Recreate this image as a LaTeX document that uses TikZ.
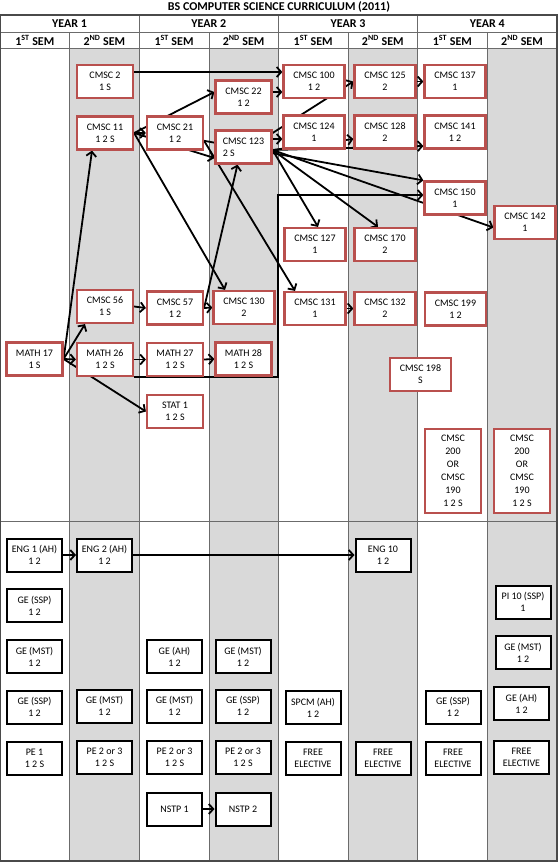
\documentclass[tikz,border=0pt]{standalone}
\usepackage{fontspec}
\setmainfont{Carlito}
\usetikzlibrary{arrows.meta,backgrounds}
\definecolor{shadec}{HTML}{D9D9D9}
\definecolor{gridc}{HTML}{6B6B6B}
\definecolor{framec}{HTML}{4A4A4A}
\definecolor{boxred}{HTML}{B9504E}

\tikzset{
  course/.style={draw=boxred, line width=2.2pt, fill=white, minimum width=56pt,
    minimum height=33pt, inner sep=1pt, align=center,
    font=\fontsize{10}{12}\selectfont},
  wide/.style={minimum width=61pt},
  tall/.style={minimum height=84pt, font=\fontsize{10}{13}\selectfont},
  gened/.style={course, draw=black, line width=2pt, minimum width=55pt},
  prq/.style={-{Straight Barb[length=4.5pt,width=10pt]}, line width=1.8pt},
  hdr/.style={font=\fontsize{12}{14}\bfseries\selectfont},
}

\begin{document}
\begin{tikzpicture}[x=1pt, y=-1pt]
  \useasboundingbox (0,0) rectangle (558,863);

  % major courses
  \node[course] (c2) at (105,81.5) {CMSC 2\\1 S};
  \node[course] (c11) at (105,133) {CMSC 11\\1 2 S};
  \node[course] (c21) at (175,133) {CMSC 21\\1 2};
  \node[course] (c22) at (243.5,97) {CMSC 22\\1 2};
  \node[course, align=left] (c123) at (243.5,147) {CMSC 123\\2 S};
  \node[course, wide] (c100) at (314,81.5) {CMSC 100\\1 2};
  \node[course, wide] (c125) at (385,81.5) {CMSC 125\\2};
  \node[course, wide] (c137) at (455,81.5) {CMSC 137\\1};
  \node[course, wide] (c124) at (314,132) {CMSC 124\\1};
  \node[course, wide] (c128) at (385,132) {CMSC 128\\2};
  \node[course, wide] (c141) at (455,132) {CMSC 141\\1 2};
  \node[course, wide] (c150) at (455,198) {CMSC 150\\1};
  \node[course, wide] (c142) at (525,222.5) {CMSC 142\\1};
  \node[course, wide] (c127) at (315,244.5) {CMSC 127\\1};
  \node[course, wide] (c170) at (385,244.5) {CMSC 170\\2};
  \node[course, wide] (c131) at (315,308.5) {CMSC 131\\1};
  \node[course, wide] (c132) at (385,308.5) {CMSC 132\\2};
  \node[course, wide] (c130) at (244,307.5) {CMSC 130\\2};
  \node[course, wide] (c199) at (455.5,309) {CMSC 199\\1 2};
  \node[course, wide] (c198) at (420.5,374.5) {CMSC 198\\S};
  \node[course] (c56) at (105,306.5) {CMSC 56\\1 S};
  \node[course] (c57) at (175,308) {CMSC 57\\1 2};
  \node[course] (m17) at (34.5,359) {MATH 17\\1 S};
  \node[course] (m26) at (105,359.5) {MATH 26\\1 2 S};
  \node[course] (m27) at (175,359.5) {MATH 27\\1 2 S};
  \node[course] (m28) at (243.5,359) {MATH 28\\1 2 S};
  \node[course] (s1) at (175,411.5) {STAT 1\\1 2 S};
  \node[course, tall] (sp1) at (453,471) {CMSC\\200\\OR\\CMSC\\190\\1 2 S};
  \node[course, tall] (sp2) at (522,471) {CMSC\\200\\OR\\CMSC\\190\\1 2 S};

  % general education
  \node[gened] (e1) at (34.5,555) {ENG 1 (AH)\\1 2};
  \node[gened] (e2) at (104.5,555) {ENG 2 (AH)\\1 2};
  \node[gened] (e10) at (383,555) {ENG 10\\1 2};
  \node[gened] (gs1) at (34.5,605.5) {GE (SSP)\\1 2};
  \node[gened] (gm1) at (34.5,656.5) {GE (MST)\\1 2};
  \node[gened] (ga3) at (174.5,656.5) {GE (AH)\\1 2};
  \node[gened] (gm4) at (243,656.5) {GE (MST)\\1 2};
  \node[gened] (pi10) at (523,602) {PI 10 (SSP)\\1};
  \node[gened] (gm8) at (523,652.5) {GE (MST)\\1 2};
  \node[gened] (gs1b) at (34.5,707) {GE (SSP)\\1 2};
  \node[gened] (gm2) at (104.5,706) {GE (MST)\\1 2};
  \node[gened] (gm3) at (174.5,706) {GE (MST)\\1 2};
  \node[gened] (gs4) at (243,706) {GE (SSP)\\1 2};
  \node[gened] (spcm) at (313,707.5) {SPCM (AH)\\1 2};
  \node[gened] (gs7) at (453,707) {GE (SSP)\\1 2};
  \node[gened] (ga8) at (521.5,703.5) {GE (AH)\\1 2};
  \node[gened] (pe1) at (34.5,758) {PE 1\\1 2 S};
  \node[gened] (pe2) at (104.5,757) {PE 2 or 3\\1 2 S};
  \node[gened] (pe3) at (174.5,757) {PE 2 or 3\\1 2 S};
  \node[gened] (pe4) at (243,757) {PE 2 or 3\\1 2 S};
  \node[gened] (fe5) at (313,758) {FREE\\ELECTIVE};
  \node[gened] (fe6) at (383,758) {FREE\\ELECTIVE};
  \node[gened] (fe7) at (453,758) {FREE\\ELECTIVE};
  \node[gened] (fe8) at (521.5,757) {FREE\\ELECTIVE};
  \node[gened] (ns1) at (174.5,809) {NSTP 1};
  \node[gened] (ns2) at (243,809) {NSTP 2};

  \coordinate (hub) at ([yshift=-3pt]c123.east);
  \coordinate (mbend) at (278,0);

  \begin{scope}[on background layer]
    % table
    \foreach \c in {1,3,5,7}
      \fill[shadec] ({\c*69.6},48) rectangle ({(\c+1)*69.6},861);
    \foreach \c in {1,...,7}
      \draw[gridc] ({\c*69.6},32) -- ({\c*69.6},861);
    \foreach \c in {2,4,6}
      \draw[gridc] ({\c*69.6},15) -- ({\c*69.6},32);
    \draw[gridc] (0,32) -- (557,32);
    \draw[gridc] (0,48) -- (557,48);
    \draw[gridc] (0,521) -- (557,521);
    \draw[framec, line width=1.2pt] (0.6,15) rectangle (557,861);

    \node[hdr] (title) at (279,7) {BS COMPUTER SCIENCE CURRICULUM (2011)};
    \foreach \y in {1,...,4} {
      \node[hdr] (year\y) at ({(2*\y-1)*69.6},23.5) {YEAR \y};
      \node[hdr] (sem\y-1) at ({(2*\y-1.5)*69.6},40.5) {1\textsuperscript{ST} SEM};
      \node[hdr] (sem\y-2) at ({(2*\y-0.5)*69.6},40.5) {2\textsuperscript{ND} SEM};
    }

    % prerequisites
    \draw[prq] ([yshift=9.5pt]c2.east) -- ([yshift=9.5pt]c2.east -| c100.west);
    \draw[prq] (c11.east) -- (c21.west);
    \draw[prq] (c11.east) -- ([yshift=5pt]c22.west);
    \draw[prq] (c11.east) -- ([yshift=-11pt]c123.west);
    \draw[prq] (c11.east) -- ([xshift=-19pt]c130.north);
    \draw[prq] ([yshift=5pt]c22.east) -- ([yshift=5pt]c22.east -| c100.west);
    \draw[prq] (c21.-15) -- ([xshift=-20pt]c131.north);
    \draw[prq] (c21.-15) -- (c150.north west);
    \draw[prq] (c57.east) -- ([xshift=-6pt]c123.south);
    \draw[prq] (c57.east) -- (c130.west);
    \draw[prq] (c56.east) -- (c57.west);
    \draw[prq] (m17.east) -- ([xshift=-13pt]c11.south);
    \draw[prq] (m17.east) -- ([xshift=-20pt]c56.south);
    \draw[prq] (m17.east) -- (m26.west);
    \draw[prq] (m17.east) -- (s1.west);
    \draw[prq] (m26.east) -- (m27.west);
    \draw[prq] (m27.east) -- (m28.west);
    \draw[prq] (m26.south east) -- (m26.south east -| mbend) |- ([yshift=3pt]c150.west);
    \draw[prq] ([yshift=8pt]c123.east) -- ([yshift=8pt]c123.east -| c124.west);
    \draw[prq] ([yshift=14pt]c123.east) -- (c125.west);
    \draw[prq] (hub) -- ([yshift=-7pt]c128.west);
    \draw[prq] (hub) -- ([yshift=-14pt]c141.west);
    \draw[prq] (hub) -- ([yshift=-5pt]c142.west);
    \draw[prq] (hub) -- ([xshift=3pt]c127.north);
    \draw[prq] (hub) -- ([xshift=-7pt]c170.north);
    \draw[prq] (c125.east) -- (c137.west);
    \draw[prq] (c131.east) -- (c132.west);
    \draw[prq] (e1.east) -- (e2.west);
    \draw[prq] (e2.east) -- (e10.west);
    \draw[prq] (ns1.east) -- (ns2.west);
  \end{scope}
\end{tikzpicture}
\end{document}
